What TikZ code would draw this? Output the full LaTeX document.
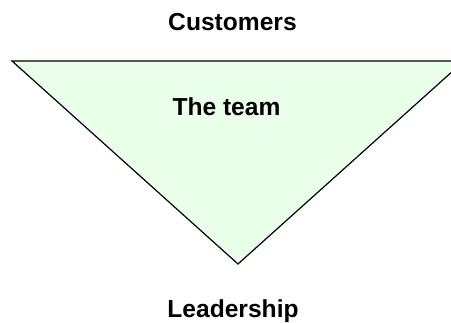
\documentclass[tikz,border=0pt]{standalone}
\usepackage{fontspec}
\setmainfont{Liberation Sans}
\usetikzlibrary{positioning}

\begin{document}
\begin{tikzpicture}
    [x=1pt,y=-1pt,
    % Styles
    label text/.style={font=\fontsize{24.6}{28}\selectfont\bfseries,inner sep=0pt,anchor=base},
    team area/.style={fill=teamfill,draw=black,line width=1.2pt,line join=miter}]

    % Colors
    \definecolor{teamfill}{RGB}{234,255,234}

    \useasboundingbox (0,0) rectangle (451,323);
    \clip (0,0) rectangle (451,323);

    % The triangle (right corner runs off the page)
    \coordinate (top left) at (12,61);
    \coordinate (top right) at (464,61);
    \coordinate (apex) at (238,264);
    \draw[team area] (top left) -- (top right) -- (apex) -- cycle;

    % The labels
    \node[label text] (customers) at (232.5,31) {Customers};
    \node[label text] (team) at (226.5,115.5) {The team};
    \node[label text] (leadership) at (233,317.5) {Leadership};
\end{tikzpicture}
\end{document}
